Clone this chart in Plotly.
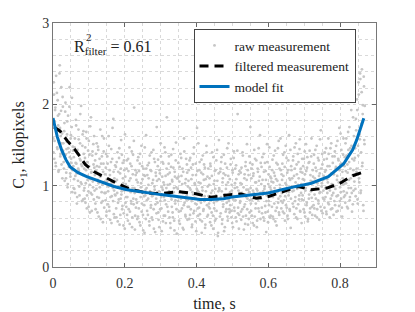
import numpy as np
import plotly.graph_objects as go

# raw measurement samples (uniformly sampled in time), read row by row from left to right
raw_rows_a = [
    [1.82, 1.41, 2.12, 1.55, 1.93, 1.28, 2.35, 1.66, 1.47, 2.05, 1.74, 1.19, 1.88, 2.48, 1.36, 1.61, 2.21, 1.52, 1.09, 1.97],
    [1.52, 1.21, 1.77, 1.34, 2.02, 1.09, 1.45, 1.63, 0.98, 1.86, 1.27, 1.41, 2.21, 1.15, 1.58, 1.33, 1.72, 0.92, 1.48, 1.24],
    [1.35, 0.96, 1.58, 1.12, 1.81, 1.27, 0.78, 1.44, 1.06, 1.69, 1.18, 0.88, 1.52, 1.31, 1.98, 1.02, 1.24, 1.63, 0.83, 1.39],
    [1.21, 0.84, 1.47, 1.03, 1.66, 0.72, 1.29, 1.12, 0.93, 1.55, 1.38, 0.67, 1.08, 1.84, 1.17, 0.89, 1.42, 0.98, 1.26, 1.61],
    [0.94, 1.31, 0.71, 1.18, 1.52, 0.86, 1.07, 1.44, 0.62, 1.23, 0.98, 1.69, 1.12, 0.79, 1.36, 1.01, 0.55, 1.27, 1.58, 0.91],
    [1.14, 0.82, 1.39, 0.68, 1.05, 1.27, 0.93, 1.61, 0.74, 1.19, 0.58, 1.02, 1.45, 0.87, 1.33, 0.97, 1.82, 0.65, 1.09, 0.89],
    [0.88, 1.23, 0.61, 1.07, 1.41, 0.79, 0.99, 1.34, 0.52, 1.15, 0.84, 1.56, 0.93, 0.71, 1.28, 1.03, 0.66, 1.19, 0.47, 1.11],
    [1.02, 0.74, 1.31, 0.86, 0.57, 1.18, 0.95, 1.47, 0.68, 1.09, 0.81, 1.24, 0.49, 0.97, 1.38, 0.77, 1.96, 0.91, 0.63, 1.13],
    [0.83, 1.16, 0.59, 1.04, 1.35, 0.72, 0.92, 1.27, 0.51, 0.98, 1.49, 0.78, 1.08, 0.64, 1.21, 0.87, 0.42, 1.12, 0.95, 1.62],
    [0.97, 0.69, 1.25, 0.84, 1.09, 0.56, 1.37, 0.91, 0.73, 1.18, 0.61, 1.03, 0.88, 1.44, 0.47, 0.99, 1.29, 0.77, 1.12, 0.66],
    [1.06, 0.79, 1.32, 0.58, 0.93, 1.19, 0.71, 1.52, 0.86, 0.44, 1.11, 0.95, 1.27, 0.63, 1.01, 0.82, 1.41, 0.54, 0.97, 1.84],
    [0.74, 1.14, 0.89, 1.36, 0.61, 1.02, 0.48, 1.23, 0.83, 1.07, 0.67, 1.45, 0.92, 0.57, 1.17, 0.78, 1.31, 0.98, 0.41, 1.09],
    [0.96, 1.28, 0.68, 1.05, 0.53, 1.39, 0.84, 1.12, 0.72, 1.21, 0.91, 0.46, 1.58, 0.79, 1.03, 0.62, 1.33, 0.88, 1.16, 0.74],
    [0.83, 1.19, 0.59, 0.97, 1.34, 0.71, 1.08, 0.49, 0.92, 1.26, 0.66, 1.47, 0.85, 1.01, 0.56, 1.13, 0.77, 1.71, 0.94, 0.63],
    [1.04, 0.73, 1.29, 0.58, 0.89, 1.16, 0.42, 0.98, 1.37, 0.69, 1.07, 0.81, 1.22, 0.52, 0.93, 1.49, 0.76, 1.11, 0.64, 0.87],
    [0.78, 1.09, 0.55, 1.24, 0.91, 0.67, 1.41, 0.84, 0.47, 1.02, 0.72, 1.18, 0.96, 0.59, 1.31, 0.81, 1.06, 0.38, 0.93, 1.56],
    [0.95, 0.62, 1.21, 0.86, 1.35, 0.53, 1.04, 0.74, 1.15, 0.44, 0.89, 1.27, 0.68, 1.01, 0.79, 1.46, 0.57, 1.12, 0.83, 0.71],
    [1.08, 0.76, 1.33, 0.61, 0.94, 1.19, 0.49, 0.87, 1.42, 0.69, 1.03, 0.82, 1.25, 0.56, 0.98, 1.88, 0.73, 1.14, 0.64, 0.91],
    [0.81, 1.16, 0.58, 1.02, 0.71, 1.37, 0.89, 0.46, 1.09, 0.77, 1.24, 0.63, 0.95, 1.51, 0.84, 0.52, 1.13, 0.92, 0.67, 1.28],
    [0.97, 0.69, 1.21, 0.83, 0.54, 1.12, 0.91, 1.44, 0.62, 1.04, 0.78, 1.31, 0.49, 0.94, 1.17, 0.72, 1.06, 0.86, 1.62, 0.59],
    [0.84, 1.23, 0.66, 1.07, 0.93, 1.39, 0.57, 0.99, 0.75, 1.18, 0.43, 0.88, 1.29, 0.68, 1.02, 0.81, 1.47, 0.61, 1.11, 0.95],
    [1.05, 0.74, 1.32, 0.86, 0.59, 1.16, 0.97, 1.43, 0.69, 1.08, 0.51, 0.92, 1.26, 0.79, 1.55, 0.64, 1.01, 0.87, 1.19, 0.72],
    [0.91, 1.27, 0.68, 1.12, 0.82, 1.41, 0.57, 1.03, 0.76, 1.34, 0.96, 0.63, 1.19, 0.88, 1.62, 0.71, 1.07, 0.48, 1.24, 0.99],
    [1.09, 0.78, 1.36, 0.94, 0.65, 1.21, 0.86, 1.52, 0.72, 1.14, 0.59, 1.01, 1.29, 0.83, 1.45, 0.69, 1.17, 0.91, 0.54, 1.33],
    [0.88, 1.24, 0.71, 1.07, 1.42, 0.62, 0.97, 1.18, 0.79, 1.35, 0.56, 1.02, 0.84, 1.29, 0.67, 1.13, 0.93, 1.58, 0.74, 1.05],
    [1.11, 0.76, 1.38, 0.89, 0.63, 1.22, 0.98, 1.49, 0.71, 1.06, 0.82, 1.31, 0.58, 1.15, 0.92, 1.68, 0.69, 1.03, 1.26, 0.85],
    [0.94, 1.32, 0.73, 1.17, 0.86, 1.46, 0.65, 1.08, 1.24, 0.79, 1.39, 0.97, 0.61, 1.13, 0.84, 1.52, 1.02, 0.72, 1.28, 0.91],
    [1.14, 0.81, 1.42, 0.96, 1.23, 0.68, 1.07, 1.55, 0.88, 1.31, 0.75, 1.19, 0.98, 1.64, 0.84, 1.27, 0.62, 1.09, 1.38, 0.93],
    [1.02, 1.35, 0.79, 1.18, 1.58, 0.91, 1.26, 0.72, 1.44, 1.07, 1.72, 0.86, 1.21, 0.97, 1.49, 0.68, 1.13, 1.84, 0.94, 1.31],
    [1.12, 1.46, 0.87, 1.68, 1.21, 1.93, 0.78, 1.37, 2.12, 1.04, 1.57, 2.31, 0.94, 1.76, 2.43, 1.28, 1.99, 0.69, 2.22, 1.51],
]
raw_rows_b = [
    [1.58, 2.27, 1.33, 1.79, 1.96, 1.24, 1.68, 2.14, 1.45, 1.86, 1.17, 1.53, 2.38, 1.71, 1.39, 1.92, 1.26, 1.64, 2.09, 1.43],
    [1.29, 1.67, 1.06, 1.91, 1.38, 1.16, 1.54, 1.79, 1.02, 1.46, 1.23, 1.97, 1.35, 1.11, 1.62, 1.28, 2.08, 1.19, 1.43, 0.97],
    [1.08, 1.47, 0.91, 1.28, 1.74, 1.15, 0.86, 1.39, 1.21, 1.57, 0.99, 1.33, 1.88, 1.04, 1.26, 0.81, 1.49, 1.13, 1.67, 0.94],
    [0.97, 1.34, 0.79, 1.19, 1.58, 0.88, 1.07, 1.43, 0.74, 1.24, 1.01, 1.73, 0.91, 1.16, 0.69, 1.37, 1.05, 1.51, 0.83, 1.22],
    [1.13, 0.78, 1.39, 0.96, 1.24, 0.67, 1.48, 1.03, 0.85, 1.33, 1.11, 0.59, 1.27, 0.92, 1.61, 0.81, 1.17, 1.42, 0.73, 1.05],
    [0.91, 1.22, 0.63, 1.08, 1.36, 0.77, 0.99, 1.49, 0.69, 1.13, 0.86, 1.29, 0.54, 1.04, 1.71, 0.81, 1.17, 0.94, 0.61, 1.25],
    [1.05, 0.72, 1.29, 0.91, 0.56, 1.17, 0.83, 1.46, 0.98, 0.64, 1.21, 0.89, 1.38, 0.75, 1.09, 0.51, 1.31, 0.94, 1.63, 0.79],
    [0.86, 1.21, 0.64, 0.99, 1.33, 0.71, 1.06, 0.53, 1.27, 0.92, 0.78, 1.42, 0.61, 1.14, 0.84, 1.55, 0.97, 0.46, 1.19, 0.73],
    [1.07, 0.79, 1.31, 0.62, 0.94, 1.18, 0.55, 1.39, 0.86, 1.03, 0.68, 1.24, 0.91, 0.45, 1.13, 0.76, 1.47, 0.88, 0.59, 1.21],
    [0.82, 1.13, 0.64, 1.01, 1.28, 0.51, 0.93, 1.19, 0.76, 1.41, 0.87, 0.58, 1.07, 0.71, 1.33, 0.95, 0.43, 1.16, 0.84, 1.72],
    [0.92, 1.24, 0.67, 1.08, 0.49, 1.15, 0.81, 1.36, 0.72, 0.98, 1.29, 0.56, 1.04, 0.86, 1.47, 0.63, 1.12, 0.77, 1.21, 0.89],
    [1.01, 0.68, 1.27, 0.93, 1.16, 0.54, 0.87, 1.38, 0.74, 1.05, 0.61, 1.22, 0.97, 0.45, 1.11, 0.82, 1.53, 0.71, 1.09, 0.86],
    [0.81, 1.11, 0.57, 1.23, 0.93, 0.69, 1.34, 0.85, 1.02, 0.48, 1.17, 0.76, 1.42, 0.91, 0.64, 1.08, 0.83, 1.26, 0.58, 0.99],
    [1.06, 0.74, 1.31, 0.64, 0.95, 1.22, 0.81, 0.52, 1.13, 0.89, 1.39, 0.69, 1.03, 0.78, 1.27, 0.44, 0.96, 1.18, 0.72, 1.52],
    [0.92, 1.19, 0.65, 1.03, 0.79, 1.32, 0.56, 0.94, 1.14, 0.71, 1.26, 0.87, 0.48, 1.08, 0.83, 1.41, 0.62, 0.99, 1.21, 0.74],
    [1.01, 0.72, 1.27, 0.86, 0.51, 1.12, 0.94, 0.63, 1.35, 0.79, 1.06, 0.57, 1.19, 0.88, 0.69, 1.44, 0.82, 0.42, 1.15, 0.97],
    [0.84, 1.17, 0.66, 1.29, 0.93, 0.58, 1.09, 0.77, 1.38, 0.89, 0.49, 1.13, 0.96, 0.71, 1.22, 0.62, 1.04, 1.52, 0.81, 0.67],
    [0.92, 1.26, 0.69, 1.01, 0.54, 1.16, 0.83, 1.34, 0.73, 0.97, 1.21, 0.61, 1.08, 0.87, 1.43, 0.66, 0.94, 0.47, 1.18, 0.79],
    [1.03, 0.68, 1.22, 0.91, 1.41, 0.62, 0.98, 0.74, 1.14, 0.53, 1.29, 0.86, 1.07, 0.71, 1.19, 0.95, 0.59, 1.36, 0.82, 1.72],
    [0.78, 1.09, 0.63, 1.26, 0.94, 1.15, 0.51, 0.87, 1.33, 0.72, 1.04, 0.96, 0.57, 1.21, 0.83, 1.46, 0.68, 1.11, 0.91, 1.28],
    [1.02, 0.73, 1.35, 0.89, 0.61, 1.17, 0.96, 1.28, 0.67, 1.07, 0.81, 1.51, 0.92, 0.55, 1.14, 0.76, 1.23, 0.98, 0.63, 1.09],
    [0.87, 1.19, 0.62, 1.04, 1.37, 0.78, 1.12, 0.56, 0.93, 1.28, 0.73, 1.06, 1.46, 0.84, 0.67, 1.21, 0.97, 1.58, 0.81, 1.14],
    [1.07, 0.79, 1.38, 0.94, 0.66, 1.23, 0.87, 1.49, 1.01, 0.73, 1.16, 0.59, 1.31, 0.92, 1.09, 0.69, 1.44, 0.84, 1.19, 0.97],
    [0.93, 1.31, 0.74, 1.12, 1.47, 0.81, 1.04, 0.61, 1.26, 0.96, 1.39, 0.77, 1.09, 0.88, 1.57, 0.68, 1.21, 1.02, 0.83, 1.16],
    [1.08, 0.82, 1.33, 0.67, 1.14, 0.94, 1.51, 0.76, 1.22, 1.01, 0.59, 1.28, 0.89, 1.43, 0.72, 1.06, 1.36, 0.85, 0.64, 1.19],
    [0.96, 1.27, 0.72, 1.09, 1.44, 0.84, 1.18, 0.61, 1.03, 1.34, 0.78, 1.12, 0.91, 1.57, 0.74, 1.21, 0.99, 1.39, 0.66, 1.07],
    [1.12, 0.83, 1.41, 0.97, 1.19, 0.68, 1.33, 0.91, 1.04, 1.58, 0.77, 1.24, 0.94, 1.46, 0.71, 1.15, 0.88, 1.36, 1.01, 0.64],
    [0.99, 1.36, 0.76, 1.21, 1.49, 0.87, 1.12, 0.69, 1.33, 1.04, 1.71, 0.81, 1.26, 0.92, 1.44, 0.73, 1.17, 1.02, 1.58, 0.86],
    [1.24, 0.88, 1.52, 1.03, 1.37, 0.74, 1.16, 1.66, 0.97, 1.29, 0.82, 1.46, 1.09, 1.93, 0.91, 1.33, 0.77, 1.19, 1.61, 1.05],
    [1.34, 0.96, 1.82, 1.17, 2.06, 0.83, 1.49, 2.27, 1.09, 1.63, 2.38, 0.91, 1.41, 2.15, 1.24, 1.88, 0.76, 2.34, 1.56, 1.98],
]
raw_va = [v for row in raw_rows_a for v in row]
raw_vb = [v for row in raw_rows_b for v in row]
# uniform sampling instants of the two interleaved sample sets
raw_ta = np.linspace(0.0, 0.868, len(raw_va))
raw_tb = np.linspace(0.0007, 0.8687, len(raw_vb))
raw_t = np.concatenate([raw_ta, raw_tb])
raw_v = raw_va + raw_vb

filt_t = [0.003, 0.02, 0.04, 0.06, 0.075, 0.09, 0.115, 0.141, 0.178, 0.216, 0.262, 0.286, 0.309,
          0.351, 0.398, 0.44, 0.487, 0.524, 0.566, 0.603, 0.64, 0.683, 0.72, 0.763, 0.80, 0.833, 0.863]
filt_v = [1.72, 1.67, 1.55, 1.45, 1.36, 1.26, 1.17, 1.11, 1.03, 0.955, 0.91, 0.905, 0.905,
          0.926, 0.90, 0.857, 0.886, 0.898, 0.845, 0.87, 0.93, 0.99, 0.95, 0.97, 1.03, 1.12, 1.165]

model_t = [0.0, 0.006, 0.012, 0.024, 0.036, 0.048, 0.07, 0.094, 0.132, 0.17, 0.206, 0.25, 0.30, 0.34,
           0.375, 0.41, 0.44, 0.475, 0.505, 0.55, 0.60, 0.655, 0.72, 0.767, 0.795, 0.81, 0.823,
           0.835, 0.846, 0.858, 0.866]
model_v = [1.83, 1.70, 1.60, 1.44, 1.32, 1.23, 1.16, 1.11, 1.05, 0.99, 0.95, 0.92, 0.89, 0.87,
           0.85, 0.83, 0.83, 0.84, 0.865, 0.885, 0.91, 0.97, 1.03, 1.11, 1.21, 1.27, 1.36,
           1.44, 1.56, 1.72, 1.83]

x_ticks = [0, 0.2, 0.4, 0.6, 0.8]
x_labels = ["0", "0.2", "0.4", "0.6", "0.8"]
y_ticks = [0, 1, 2, 3]
y_labels = ["0", "1", "2", "3"]

FONT = "Times New Roman, Liberation Serif, DejaVu Serif, serif"

fig = go.Figure()
fig.add_trace(go.Scatter(x=raw_t, y=raw_v, mode="markers", name="raw measurement",
                         marker=dict(color="#c6c6c6", size=2.8, line=dict(width=0))))
fig.add_trace(go.Scatter(x=filt_t, y=filt_v, mode="lines", name="filtered measurement",
                         line=dict(color="black", width=3, dash="9px,6px")))
fig.add_trace(go.Scatter(x=model_t, y=model_v, mode="lines", name="model fit",
                         line=dict(color="#0072BD", width=3)))

grid = dict(showgrid=True, gridcolor="#d9d9d9", griddash="dot", gridwidth=1)
fig.update_xaxes(range=[0, 0.9], tickvals=x_ticks, ticktext=x_labels, ticks="inside", ticklen=4,
                 tickcolor="#666", showline=True, linecolor="#777", mirror="ticks", zeroline=False,
                 automargin=False, ticklabelstandoff=3,
                 minor=dict(dtick=0.05, tick0=0, ticks="", **grid), **grid,
                 title=dict(text="time, s", font=dict(size=16, family=FONT, color="#222"), standoff=10),
                 tickfont=dict(size=14, family=FONT, color="#333"))
fig.update_yaxes(range=[0, 3], tickvals=y_ticks, ticktext=y_labels, ticks="inside", ticklen=4,
                 tickcolor="#666", showline=True, linecolor="#777", mirror="ticks", zeroline=False,
                 automargin=False,
                 minor=dict(dtick=0.2, tick0=0, ticks="", **grid), **grid,
                 title=dict(text="C<sub>1</sub>, kilopixels", font=dict(size=16, family=FONT, color="#222"), standoff=13),
                 tickfont=dict(size=14, family=FONT, color="#333"))

fig.add_annotation(x=0.053, y=2.70, xref="x", yref="y", xanchor="left", yanchor="middle", showarrow=False,
                   text="R<sub>filter</sub> = 0.61", font=dict(size=16, family=FONT, color="#222"))
fig.add_annotation(x=0.087, y=2.83, xref="x", yref="y", xanchor="left", yanchor="middle", showarrow=False,
                   text="2", font=dict(size=11, family=FONT, color="#222"))

# the page body adds an 8px offset, so the figure is 8px smaller and margins shifted accordingly
fig.update_layout(width=407, height=304, margin=dict(l=45, r=39, t=15, b=45),
                  plot_bgcolor="white", paper_bgcolor="white",
                  font=dict(family=FONT),
                  legend=dict(x=0.435, y=0.975, xanchor="left", yanchor="top",
                              bgcolor="white", bordercolor="#444", borderwidth=1,
                              font=dict(size=13.5, family=FONT, color="#222"),
                              tracegroupgap=0, itemwidth=30))
fig.write_html("out.html")
